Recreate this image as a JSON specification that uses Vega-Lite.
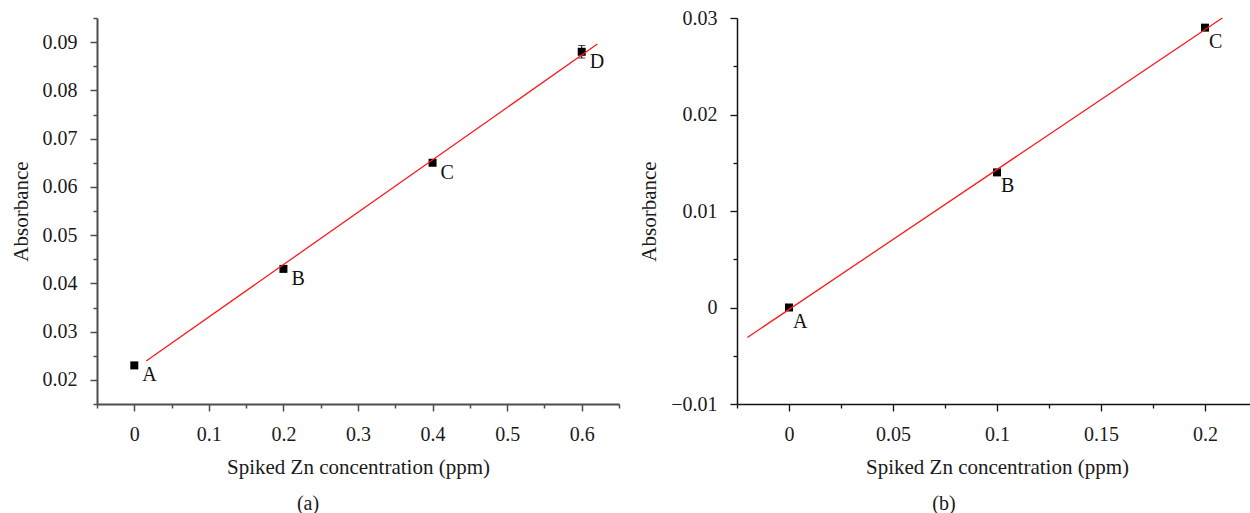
{
  "$schema": "https://vega.github.io/schema/vega-lite/v6.json",
  "background": "white",
  "padding": {"left": 10, "top": 8, "right": 0, "bottom": 0},
  "bounds": "flush",
  "spacing": 118,
  "config": {
    "font": "Liberation Serif",
    "view": {"stroke": null},
    "axis": {
      "labelFont": "Liberation Serif",
      "labelFontSize": 20,
      "labelColor": "#1a1a1a",
      "titleFont": "Liberation Serif",
      "titleFontSize": 21,
      "titleFontWeight": "normal",
      "titleColor": "#1a1a1a",
      "grid": false,
      "labelOverlap": false,
      "labelBound": false,
      "labelFlush": false
    },
    "title": {"font": "Liberation Serif", "fontSize": 20, "fontWeight": "normal", "color": "#1a1a1a"}
  },
  "datasets": {
    "pointsA": [
      {"x": 0, "y": 0.023, "label": "A"},
      {"x": 0.2, "y": 0.043, "label": "B"},
      {"x": 0.4, "y": 0.065, "label": "C"},
      {"x": 0.6, "y": 0.088, "label": "D"}
    ],
    "errA": [
      {"x": 0.4, "y": 0.0646, "y2": 0.0654},
      {"x": 0.6, "y": 0.0867, "y2": 0.0893}
    ],
    "fitA": [
      {"x": 0.016, "y": 0.0239},
      {"x": 0.621, "y": 0.0896}
    ],
    "pointsB": [
      {"x": 0, "y": 0, "label": "A"},
      {"x": 0.1, "y": 0.014, "label": "B"},
      {"x": 0.2, "y": 0.029, "label": "C"}
    ],
    "fitB": [
      {"x": -0.02, "y": -0.0031},
      {"x": 0.2083, "y": 0.03}
    ]
  },
  "hconcat": [
    {
      "width": 522,
      "height": 386,
      "title": {"text": "(a)", "orient": "bottom", "anchor": "middle", "frame": "group", "offset": 17, "dx": -50, "font": "Liberation Serif", "fontSize": 20, "fontWeight": "normal", "color": "#1a1a1a"},
      "encoding": {
        "x": {
          "field": "x", "type": "quantitative",
          "scale": {"domain": [-0.05, 0.65], "nice": false, "zero": false},
          "axis": {
            "title": "Spiked Zn concentration (ppm)",
            "values": [-0.05, 0, 0.05, 0.1, 0.15, 0.2, 0.25, 0.3, 0.35, 0.4, 0.45, 0.5, 0.55, 0.6, 0.65],
            "format": ".1~f",
            "labelExpr": "abs(datum.value*10 - round(datum.value*10)) < 0.001 ? datum.label : ''",
            "tickSize": {"condition": {"test": "abs(datum.value*10 - round(datum.value*10)) < 0.001", "value": 7}, "value": 4},
            "labelPadding": 13,
            "titlePadding": 12,
            "domainColor": "#4d4d4d", "domainWidth": 2, "tickColor": "#4d4d4d", "tickWidth": 1.5
          }
        },
        "y": {
          "field": "y", "type": "quantitative",
          "scale": {"domain": [0.015, 0.095], "nice": false, "zero": false},
          "axis": {
            "title": "Absorbance",
            "values": [0.015, 0.02, 0.025, 0.03, 0.035, 0.04, 0.045, 0.05, 0.055, 0.06, 0.065, 0.07, 0.075, 0.08, 0.085, 0.09, 0.095],
            "format": ".2~f",
            "labelExpr": "abs(datum.value*100 - round(datum.value*100)) < 0.001 ? datum.label : ''",
            "tickSize": {"condition": {"test": "abs(datum.value*100 - round(datum.value*100)) < 0.001", "value": 7}, "value": 4},
            "labelPadding": 13,
            "titlePadding": 11,
            "domainColor": "#4d4d4d", "domainWidth": 2, "tickColor": "#4d4d4d", "tickWidth": 1.5
          }
        }
      },
      "layer": [
        {
          "data": {"name": "pointsA"},
          "mark": {"type": "point", "shape": "square", "filled": true, "size": 64, "color": "black", "opacity": 1}
        },
        {
          "data": {"name": "errA"},
          "mark": {"type": "errorbar", "ticks": {"size": 7, "color": "black"}, "color": "black", "thickness": 1},
          "encoding": {"y2": {"field": "y2"}}
        },
        {
          "data": {"name": "fitA"},
          "mark": {"type": "line", "color": "#ff1a1a", "strokeWidth": 1.3}
        },
        {
          "data": {"name": "pointsA"},
          "mark": {"type": "text", "align": "left", "baseline": "middle", "dx": 8, "dy": 10, "fontSize": 20, "font": "Liberation Serif", "color": "#111111"},
          "encoding": {"text": {"field": "label"}}
        }
      ]
    },
    {
      "width": 520,
      "height": 386,
      "title": {"text": "(b)", "orient": "bottom", "anchor": "middle", "frame": "group", "offset": 17, "dx": -53, "font": "Liberation Serif", "fontSize": 20, "fontWeight": "normal", "color": "#1a1a1a"},
      "encoding": {
        "x": {
          "field": "x", "type": "quantitative",
          "scale": {"domain": [-0.025, 0.225], "nice": false, "zero": false},
          "axis": {
            "title": "Spiked Zn concentration (ppm)",
            "values": [-0.025, 0, 0.025, 0.05, 0.075, 0.1, 0.125, 0.15, 0.175, 0.2, 0.225],
            "format": ".2~f",
            "labelExpr": "abs(datum.value*20 - round(datum.value*20)) < 0.001 ? datum.label : ''",
            "tickSize": {"condition": {"test": "abs(datum.value*20 - round(datum.value*20)) < 0.001", "value": 7}, "value": 4},
            "labelPadding": 13,
            "titlePadding": 12,
            "domainColor": "#111111", "domainWidth": 1.5, "tickColor": "#111111", "tickWidth": 1.3
          }
        },
        "y": {
          "field": "y", "type": "quantitative",
          "scale": {"domain": [-0.01, 0.03], "nice": false, "zero": false},
          "axis": {
            "title": "Absorbance",
            "values": [-0.01, -0.005, 0, 0.005, 0.01, 0.015, 0.02, 0.025, 0.03],
            "format": ".2~f",
            "labelExpr": "abs(datum.value*100 - round(datum.value*100)) < 0.001 ? datum.label : ''",
            "tickSize": {"condition": {"test": "abs(datum.value*100 - round(datum.value*100)) < 0.001", "value": 7}, "value": 4},
            "labelPadding": 13,
            "titlePadding": 11,
            "domainColor": "#111111", "domainWidth": 1.5, "tickColor": "#111111", "tickWidth": 1.3
          }
        }
      },
      "layer": [
        {
          "data": {"name": "pointsB"},
          "mark": {"type": "point", "shape": "square", "filled": true, "size": 64, "color": "black", "opacity": 1}
        },
        {
          "data": {"name": "fitB"},
          "mark": {"type": "line", "color": "#ff1a1a", "strokeWidth": 1.3}
        },
        {
          "data": {"name": "pointsB"},
          "mark": {"type": "text", "align": "left", "baseline": "middle", "dx": 4, "dy": 14, "fontSize": 20, "font": "Liberation Serif", "color": "#111111"},
          "encoding": {"text": {"field": "label"}}
        }
      ]
    }
  ]
}
